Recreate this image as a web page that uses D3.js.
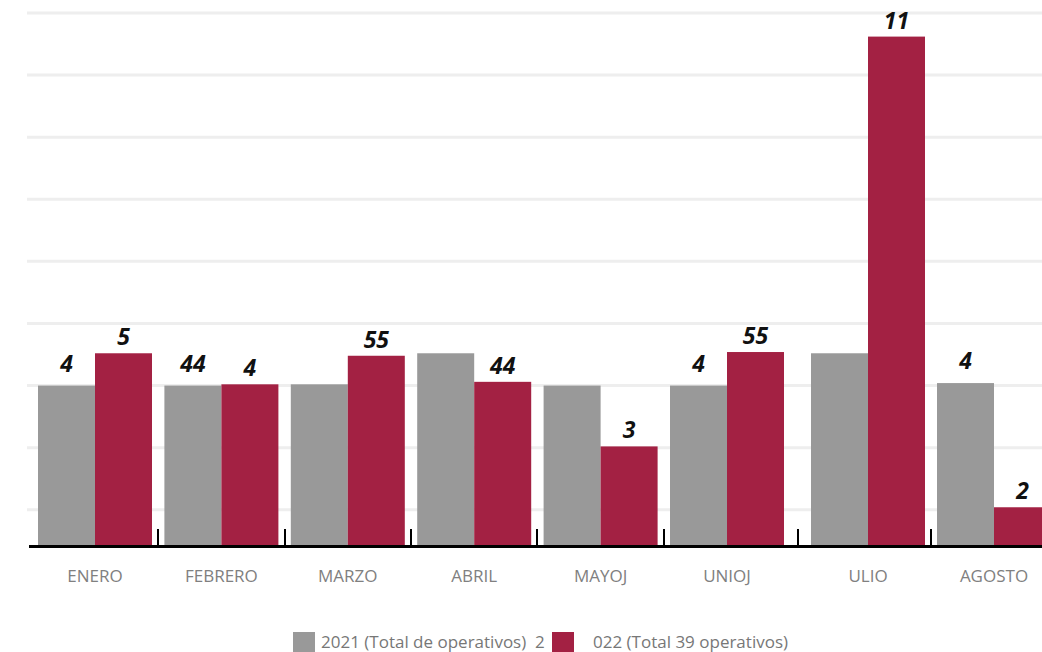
<!DOCTYPE html>
<html>
<head>
<meta charset="UTF-8">
<title>Operativos 2021 - 2022</title>
<script src="https://cdn.jsdelivr.net/npm/d3@7"></script>
<style>
    body {
        margin: 0;
        background: #fff;
        font-family: "Open Sans", sans-serif;
    }

    .grid line {
        stroke: #eeeeee;
        stroke-width: 3;
    }

    .baseline {
        stroke: #000;
        stroke-width: 3;
    }

    .sep {
        stroke: #000;
        stroke-width: 2;
    }

    .bar.y2021 { fill: #999999; }
    .bar.y2022 { fill: #a32143; }

    .value {
        font-size: 23px;
        font-weight: 700;
        font-style: italic;
        fill: #111;
        text-anchor: middle;
    }

    .month {
        font-size: 17px;
        fill: #808080;
        text-anchor: middle;
    }

    .legend text {
        font-size: 17px;
        fill: #777;
        white-space: pre;
    }
</style>
</head>
<body>
<script>
    // values (bar heights, in grid units)
    var months = ["ENERO", "FEBRERO", "MARZO", "ABRIL", "MAYOJ", "UNIOJ", "ULIO", "AGOSTO"];
    var values2021 = [13, 13, 13.1, 15.6, 13, 13, 15.6, 13.2];
    var values2022 = [15.6, 13.1, 15.4, 13.3, 8.1, 15.7, 41.1, 3.2];
    var labels2021 = ["4", "44", "", "", "", "4", "", "4"];
    var labels2022 = ["5", "4", "55", "44", "3", "55", "11", "2"];
    var gridValues = [3, 8, 13, 18, 23, 28, 33, 38, 43];
    var legendLabels = ["2021 (Total de operativos)  2", "022 (Total 39 operativos)"];

    var width = 1042, height = 652,
        barWidth = 57;

    var svg = d3.select("body").append("svg")
            .attr("width", width)
            .attr("height", height);

    // group centres are not evenly spaced in the original (julio is pushed right)
    var x = d3.scaleLinear()
            .domain([0, 5, 6, 7])
            .range([95, 727, 868, 994]);

    var y = d3.scaleLinear()
            .domain([0, 43])
            .range([547, 13]);

    svg.append("g")
            .attr("class", "grid")
            .selectAll("line")
            .data(gridValues)
            .enter().append("line")
            .attr("x1", 27)
            .attr("x2", width)
            .attr("y1", function (d) { return y(d); })
            .attr("y2", function (d) { return y(d); });

    var groups = svg.selectAll("g.month-group")
            .data(months)
            .enter().append("g")
            .attr("class", "month-group");

    groups.append("rect")
            .attr("class", "bar y2021")
            .attr("x", function (d, i) { return x(i) - barWidth; })
            .attr("width", barWidth)
            .attr("y", function (d, i) { return y(values2021[i]); })
            .attr("height", function (d, i) { return y(0) - y(values2021[i]); });

    groups.append("rect")
            .attr("class", "bar y2022")
            .attr("x", function (d, i) { return x(i); })
            .attr("width", barWidth)
            .attr("y", function (d, i) { return y(values2022[i]); })
            .attr("height", function (d, i) { return y(0) - y(values2022[i]); });

    groups.append("text")
            .attr("class", "value")
            .attr("x", function (d, i) { return x(i) - barWidth / 2; })
            .attr("y", function (d, i) { return y(values2021[i]) - 14; })
            .text(function (d, i) { return labels2021[i]; });

    groups.append("text")
            .attr("class", "value")
            .attr("x", function (d, i) { return x(i) + barWidth / 2; })
            .attr("y", function (d, i) { return y(values2022[i]) - 8; })
            .text(function (d, i) { return labels2022[i]; });

    groups.append("text")
            .attr("class", "month")
            .attr("x", function (d, i) { return x(i); })
            .attr("y", 582)
            .text(function (d) { return d; });

    // little separators between months
    svg.selectAll("line.sep")
            .data(d3.range(months.length - 1))
            .enter().append("line")
            .attr("class", "sep")
            .attr("x1", function (d) { return Math.round(x(d + 0.5)); })
            .attr("x2", function (d) { return Math.round(x(d + 0.5)); })
            .attr("y1", y(0) - 18)
            .attr("y2", y(0));

    svg.append("line")
            .attr("class", "baseline")
            .attr("x1", 29)
            .attr("x2", width)
            .attr("y1", y(0) - 0.5)
            .attr("y2", y(0) - 0.5);

    var legend = svg.append("g")
            .attr("class", "legend");

    legend.append("rect")
            .attr("x", 293).attr("y", 632)
            .attr("width", 22).attr("height", 22)
            .attr("fill", "#999999");
    legend.append("text")
            .attr("x", 321).attr("y", 648)
            .text(legendLabels[0]);

    legend.append("rect")
            .attr("x", 552).attr("y", 632)
            .attr("width", 22).attr("height", 22)
            .attr("fill", "#a32143");
    legend.append("text")
            .attr("x", 593).attr("y", 648)
            .text(legendLabels[1]);
</script>
</body>
</html>
